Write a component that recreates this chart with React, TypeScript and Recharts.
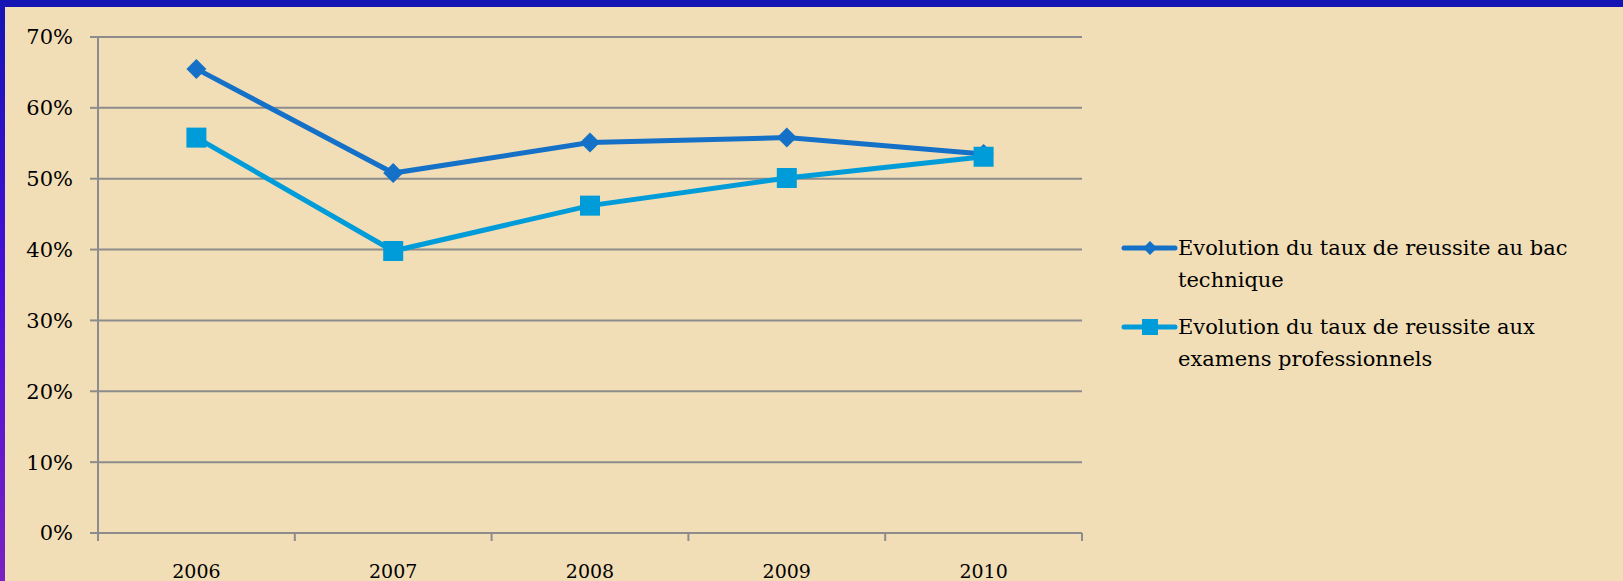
import React from "react";
import { LineChart, Line, XAxis, YAxis, CartesianGrid } from "recharts";

const categories = ["2006", "2007", "2008", "2009", "2010"];
const bacTechnique = [65.5, 50.8, 55.1, 55.8, 53.5];
const examensPro = [55.8, 39.8, 46.2, 50.1, 53.1];
const yTicks = [0, 10, 20, 30, 40, 50, 60, 70];
const legendLines = [
  ["Evolution du taux de reussite au bac", "technique"],
  ["Evolution du taux de reussite aux", "examens professionnels"],
];

const W = 1623;
const H = 581;
const M = { top: 37, right: 541, bottom: 0, left: 0 };
const Y_AXIS_W = 98;
const PLOT_W = W - M.left - Y_AXIS_W - M.right;
const HALF_BAND = PLOT_W / categories.length / 2;

const DARK = "#1570C8";
const LIGHT = "#009CD9";
const FONT = "'DejaVu Serif', 'Liberation Serif', serif";

const data = categories.map((c, i) => ({
  x: i + 0.5,
  cat: c,
  bac: bacTechnique[i],
  pro: examensPro[i],
}));

const Diamond = (props: any) => {
  const { cx, cy } = props;
  if (cx == null || cy == null) return null;
  const r = 10;
  return (
    <polygon
      points={`${cx},${cy - r} ${cx + r},${cy} ${cx},${cy + r} ${cx - r},${cy}`}
      fill={DARK}
    />
  );
};

const Square = (props: any) => {
  const { cx, cy } = props;
  if (cx == null || cy == null) return null;
  const s = 10;
  return <rect x={cx - s} y={cy - s} width={2 * s} height={2 * s} fill={LIGHT} />;
};

const XTick = (props: any) => {
  const { x, y, payload } = props;
  const i = payload.value;
  if (i >= categories.length) return null;
  return (
    <text
      x={x + HALF_BAND}
      y={y + 35}
      textAnchor="middle"
      fontFamily={FONT}
      fontSize={19}
      fill="#000"
    >
      {categories[i]}
    </text>
  );
};

const LegendBlock = () => {
  const items = [
    { color: DARK, shape: "diamond", lines: legendLines[0] },
    { color: LIGHT, shape: "square", lines: legendLines[1] },
  ];
  return (
    <div
      style={{
        position: "absolute",
        left: 1121,
        top: 232,
        width: 500,
        fontFamily: FONT,
        fontSize: 21,
        color: "#000",
      }}
    >
      {items.map((it, k) => (
        <div key={k} style={{ display: "flex", alignItems: "flex-start", marginBottom: 15 }}>
          <svg width={57} height={32} style={{ flex: "none" }}>
            <line x1={3} y1={16} x2={54} y2={16} stroke={it.color} strokeWidth={5} strokeLinecap="round" />
            {it.shape === "diamond" ? (
              <polygon points="29,9 36,16 29,23 22,16" fill={it.color} />
            ) : (
              <rect x={21} y={8} width={16} height={16} fill={it.color} />
            )}
          </svg>
          <div style={{ lineHeight: "32px", whiteSpace: "nowrap" }}>
            {it.lines.map((l, j) => (
              <div key={j}>{l}</div>
            ))}
          </div>
        </div>
      ))}
    </div>
  );
};

export default function App() {
  return (
    <div
      style={{
        position: "absolute",
        left: 0,
        top: 0,
        width: W,
        height: H,
        background: "#F1DEB6",
        overflow: "hidden",
      }}
    >
      <div style={{ position: "absolute", left: 0, top: 0, width: W, height: 7, background: "#1414B4" }} />
      <div
        style={{
          position: "absolute",
          left: 0,
          top: 0,
          width: 5,
          height: H,
          background: "linear-gradient(#1414B4, #4A10D8 50%, #7A22C0)",
        }}
      />
      <div style={{ position: "absolute", left: 0, top: 0 }}>
        <LineChart width={W} height={H} data={data} margin={M}>
          <CartesianGrid vertical={false} stroke="#8C8C8C" strokeWidth={2} />
          <XAxis
            dataKey="x"
            type="number"
            domain={[0, categories.length]}
            ticks={[0, 1, 2, 3, 4, 5]}
            tick={<XTick />}
            tickSize={8}
            tickLine={{ stroke: "#8C8C8C", strokeWidth: 2 }}
            axisLine={{ stroke: "#8C8C8C", strokeWidth: 2 }}
            height={48}
            interval={0}
          />
          <YAxis
            type="number"
            domain={[0, 70]}
            ticks={yTicks}
            width={Y_AXIS_W}
            tickSize={8}
            tickMargin={17}
            tickFormatter={(v: number) => `${v}%`}
            tick={{ fontFamily: FONT, fontSize: 21, fill: "#000" }}
            tickLine={{ stroke: "#8C8C8C", strokeWidth: 2 }}
            axisLine={{ stroke: "#8C8C8C", strokeWidth: 2 }}
            interval={0}
          />
          <Line
            dataKey="bac"
            stroke={DARK}
            strokeWidth={5}
            dot={<Diamond />}
            activeDot={false}
            isAnimationActive={false}
          />
          <Line
            dataKey="pro"
            stroke={LIGHT}
            strokeWidth={5}
            dot={<Square />}
            activeDot={false}
            isAnimationActive={false}
          />
        </LineChart>
      </div>
      <LegendBlock />
    </div>
  );
}
